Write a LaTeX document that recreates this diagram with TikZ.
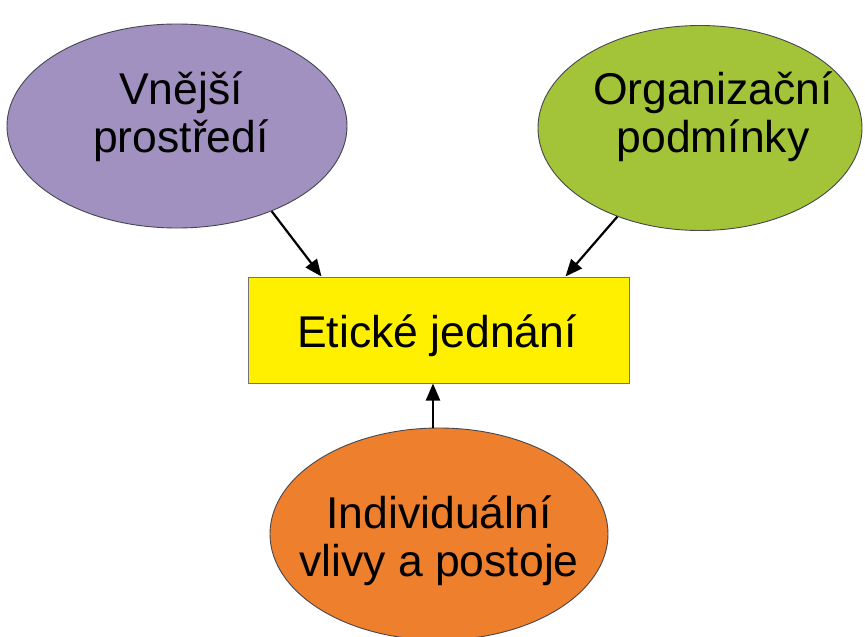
\documentclass[tikz,border=0pt]{standalone}
\usepackage{fontspec}
\setmainfont{Liberation Sans}
\usetikzlibrary{shapes.geometric,arrows.meta,calc}
\definecolor{cpurple}{RGB}{161,145,192}
\definecolor{cgreen}{RGB}{163,196,56}
\definecolor{corange}{RGB}{238,127,45}
\definecolor{cyellow}{RGB}{255,240,0}
\definecolor{cedge}{RGB}{70,70,80}
\begin{document}
\begin{tikzpicture}[x=1pt,y=-1pt,
  blob/.style={ellipse,draw=cedge,line width=0.9pt,inner sep=0pt},
  lbl/.style={font=\fontsize{44.5}{48}\selectfont,align=center,anchor=base,inner sep=0pt},
  boxstyle/.style={rectangle,draw=black!55,line width=1pt,fill=cyellow,minimum width=381pt,minimum height=106pt,inner sep=0pt},
  arr/.style={line width=2.2pt,-{Triangle[length=17pt,width=14pt]}}]
\useasboundingbox (0,0) rectangle (865,637);
\clip (0,0) rectangle (865,637);
\fill[white] (0,0) rectangle (865,637);
\node[blob,fill=cpurple,minimum width=340pt,minimum height=204pt] (vne) at (177,126) {};
\node[blob,fill=cgreen,minimum width=324pt,minimum height=205pt] (org) at (700,128) {};
\node[blob,fill=corange,minimum width=338pt,minimum height=212pt] (ind) at (439,534) {};
\node[boxstyle] (eti) at (438.5,330) {};
\node[lbl] (vnet) at (181,152) {Vnější\\prostředí};
\node[lbl] (orgt) at (713,152) {Organizační\\podmínky};
\node[lbl] (etit) at (437,347) {Etické jednání};
\node[lbl] (indt) at (439,576) {Individuální\\vlivy a postoje};
\draw[arr] (vne.-42.5) -- ($(eti.north west)+(74,0)$);
\draw[arr] (org.227.4) -- ($(eti.north east)+(-64,0)$);
\draw[arr] ($(ind.north)+(-6,0)$) -- ($(eti.south)+(-5.5,0)$);
\end{tikzpicture}
\end{document}
